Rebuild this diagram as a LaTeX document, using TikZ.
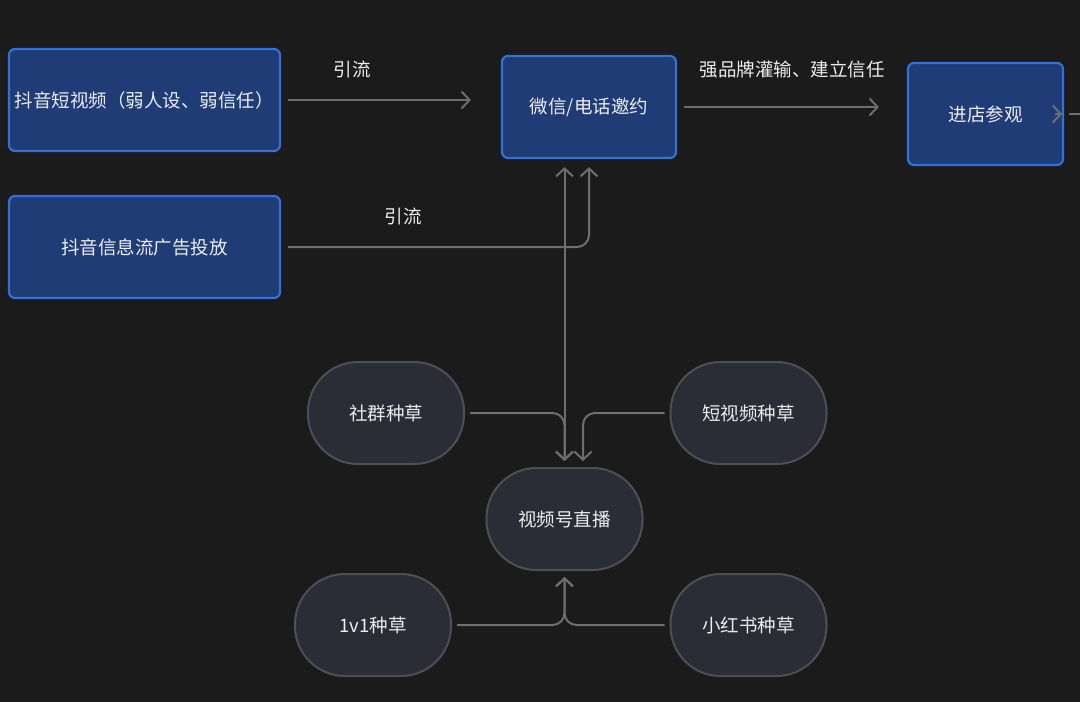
\documentclass[tikz,border=0pt]{standalone}
\usepackage{fontspec}
\setmainfont{Noto Sans CJK SC}
\usetikzlibrary{positioning, arrows.meta}

\definecolor{bgc}{HTML}{1B1B1B}
\definecolor{boxfill}{HTML}{1F3C77}
\definecolor{boxline}{HTML}{3470D6}
\definecolor{pillfill}{HTML}{2A2D36}
\definecolor{pillline}{HTML}{4D4F55}
\definecolor{linkc}{HTML}{6E6E6E}
\definecolor{txt}{HTML}{EDEDED}

\tikzset{
  bluebox/.style={draw=boxline, fill=boxfill, line width=2.2pt, rounded corners=6pt,
    minimum height=102pt, text=txt, font=\fontsize{18.5}{21}\selectfont},
  pill/.style={draw=pillline, fill=pillfill, line width=2pt, rounded corners=50pt,
    minimum width=156pt, minimum height=102pt, text=txt, font=\fontsize{18.5}{21}\selectfont},
  link/.style={draw=linkc, line width=2pt, rounded corners=12pt,
    -{Straight Barb[length=8pt,width=17pt]}},
  lbl/.style={text=txt, font=\fontsize{18.5}{21}\selectfont}
}

\begin{document}
\begin{tikzpicture}[x=1pt, y=-1pt]
\fill[bgc] (0,0) rectangle (1080,702);
\useasboundingbox (0,0) rectangle (1080,702);

\node[bluebox, minimum width=271pt] (douyin) at (144.5,100) {抖音短视频（弱人设、弱信任）};
\node[bluebox, minimum width=271pt] (ads) at (144.5,247) {抖音信息流广告投放};
\node[bluebox, minimum width=174pt] (wechat) at (589,107) {微信/电话邀约};
\node[bluebox, minimum width=155pt] (store) at (985.5,114) {进店参观};

\node[pill] (community) at (386,413) {社群种草};
\node[pill] (shortvid) at (748.5,413) {短视频种草};
\node[pill] (live) at (564.5,519) {视频号直播};
\node[pill] (onetoone) at (373,625) {1v1种草};
\node[pill] (xhs) at (748.5,625) {小红书种草};

\coordinate (out) at (1080,114);

% top row
\draw[link, shorten <=7pt, shorten >=30pt] (douyin) -- (douyin -| wechat.west);
\node[lbl] at (352,69) {引流};
\draw[link, shorten <=7pt] (ads.east) -| ([yshift=-8pt]wechat.south);
\node[lbl] at (403,216) {引流};
\draw[link, shorten <=7pt, shorten >=28pt] (wechat) -- (wechat -| store.west);
\node[lbl] at (792,69) {强品牌灌输、建立信任};
\draw[link, shorten <=3pt] ([xshift=-12pt]store.east) -- ([xshift=-2pt]store.east);
\draw[draw=linkc, line width=2pt] ([xshift=5pt]store.east) -- (out);

% live stream hub
\draw[link, {Straight Barb[length=8pt,width=17pt]}-{Straight Barb[length=8pt,width=17pt]}]
  ([yshift=-8pt]wechat.south -| live.north) -- ([yshift=6pt]live.north);
\draw[link, shorten <=5pt] (community.east) -| ([yshift=6pt]live.north);
\draw[link, shorten <=5pt] (shortvid.west) -| ([xshift=18.5pt, yshift=6pt]live.north);
\draw[link, shorten <=5pt] (onetoone.east) -| ([yshift=-6pt]live.south);
\draw[link, shorten <=5pt] (xhs.west) -| ([yshift=-6pt]live.south);
\end{tikzpicture}
\end{document}
